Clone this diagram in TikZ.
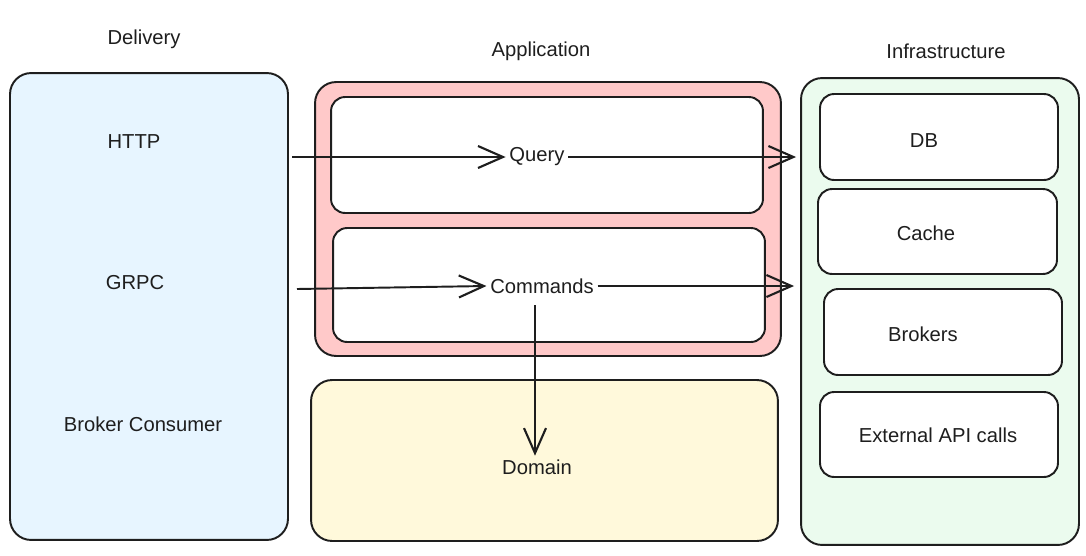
\documentclass[tikz,border=0pt]{standalone}
\usepackage{fontspec}
\setmainfont{Liberation Sans}
\usetikzlibrary{positioning,arrows.meta,calc}
\definecolor{strokegray}{HTML}{1E1E1E}
\definecolor{deliveryblue}{HTML}{E7F5FF}
\definecolor{apppink}{HTML}{FFC9C9}
\definecolor{domainyellow}{HTML}{FFF9DB}
\definecolor{infragreen}{HTML}{EBFBEE}
\tikzset{
  layerbox/.style={
    draw=strokegray,
    line width=1.1pt,
    rounded corners=12pt,
    inner sep=0pt
  },
  innerbox/.style={
    draw=strokegray,
    line width=1.1pt,
    fill=white,
    rounded corners=8pt,
    inner sep=0pt
  },
  labeltext/.style={
    font=\fontsize{11.5}{13}\selectfont,
    text=strokegray,
    inner sep=2pt
  },
  flowarrow/.style={
    -{Straight Barb[length=5mm,width=4.4mm,line width=1.2pt]},
    line width=1.1pt,
    draw=strokegray
  }
}

\begin{document}
\begin{tikzpicture}[x=0.02cm, y=-0.02cm]
    \useasboundingbox (0,0) rectangle (1086,555);

    % layers
    \node[layerbox, fill=deliveryblue, minimum width=5.56cm, minimum height=9.34cm] (delivery) at (149,306.5) {};
    \node[layerbox, fill=apppink, minimum width=9.32cm, minimum height=5.48cm] (application) at (548,219) {};
    \node[layerbox, fill=domainyellow, minimum width=9.34cm, minimum height=3.22cm] (domain) at (544.5,460.5) {};
    \node[layerbox, fill=infragreen, minimum width=5.56cm, minimum height=9.34cm] (infra) at (940,311.5) {};

    \node[labeltext] at (144,39) {Delivery};
    \node[labeltext] at (541,51) {Application};
    \node[labeltext] at (946,51) {Infrastructure};

    % application parts
    \node[innerbox, minimum width=8.64cm, minimum height=2.32cm] (querybox) at (547,155) {};
    \node[innerbox, minimum width=8.64cm, minimum height=2.28cm] (commandbox) at (549,285) {};

    % infrastructure parts
    \node[innerbox, minimum width=4.76cm, minimum height=1.72cm] (db) at (939,137) {};
    \node[innerbox, minimum width=4.78cm, minimum height=1.70cm] (cache) at (937.5,231.5) {};
    \node[innerbox, minimum width=4.76cm, minimum height=1.72cm] (brokers) at (943,332) {};
    \node[innerbox, minimum width=4.76cm, minimum height=1.70cm] (external) at (939,434.5) {};
    \node[labeltext] at (924,141) {DB};
    \node[labeltext] at (926,233) {Cache};
    \node[labeltext] at (923,334) {Brokers};
    \node[labeltext] at (938,435) {External API calls};

    % texts
    \node[labeltext] (http) at (134,142) {HTTP};
    \node[labeltext] (grpc) at (135,283) {GRPC};
    \node[labeltext] (consumer) at (143,424) {Broker Consumer};
    \node[labeltext] (query) at (537,157) {Query};
    \node[labeltext] (commands) at (542,286) {Commands};
    \node[labeltext] (domaintxt) at (537,467) {Domain};

    \coordinate (httpout) at (292,157);
    \coordinate (grpcout) at (297,289);
    \coordinate (cmdout) at (535,305);

    \draw[flowarrow] (httpout) -- (query.west);
    \draw[flowarrow] (grpcout) -- (commands.west);
    \draw[flowarrow] (query.east) -- ($(query.east -| infra.west)+(-4,0)$);
    \draw[flowarrow] (commands.east) -- ($(commands.east -| infra.west)+(-6,0)$);
    \draw[flowarrow] (cmdout) -- (cmdout |- domaintxt.north);

\end{tikzpicture}
\end{document}
